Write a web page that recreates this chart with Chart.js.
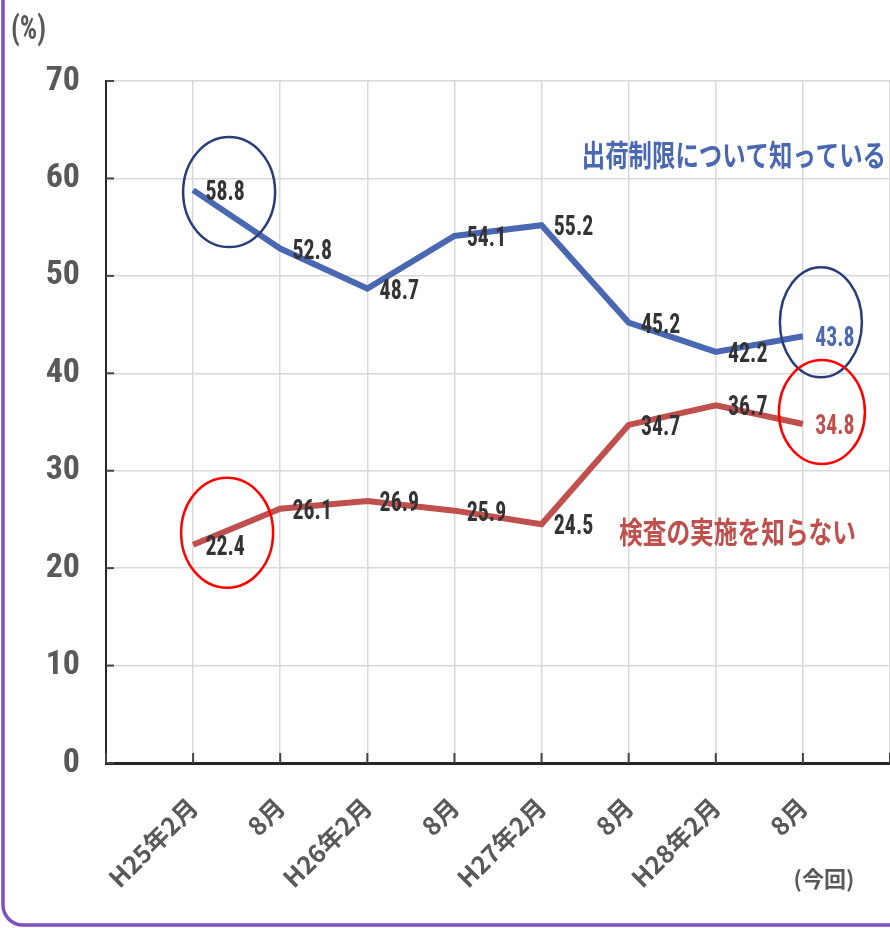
<!DOCTYPE html>
<html>
<head>
<meta charset="utf-8">
<script src="https://cdn.jsdelivr.net/npm/chart.js@4/dist/chart.umd.min.js"></script>
<style>
html,body{margin:0;padding:0;background:#fff;}
#wrap{position:relative;width:890px;height:928px;}
</style>
</head>
<body>
<div id="wrap"><canvas id="c" width="890" height="928"></canvas></div>
<script>
const categories = ['H25年2月','8月','H26年2月','8月','H27年2月','8月','H28年2月','8月'];
const knowName = '出荷制限について知っている';
const notKnowName = '検査の実施を知らない';
const knowValues = [58.8, 52.8, 48.7, 54.1, 55.2, 45.2, 42.2, 43.8];
const notKnowValues = [22.4, 26.1, 26.9, 25.9, 24.5, 34.7, 36.7, 34.8];
const yMin = 0, yMax = 70, yStep = 10;
const unitLabel = '(%)';
const lastNote = '(今回)';

const BLUE = '#4A67B2';
const RED = '#C0504D';
const NUMFONT = '"Roboto Condensed","Noto Sans CJK JP",sans-serif';
const JPFONT = '"Noto Sans CJK JP",sans-serif';

const toPts = arr => arr.map((v, i) => ({x: i, y: v}));

function squeezeText(ctx, text, x, y, sx) {
  ctx.save();
  ctx.translate(x, y);
  ctx.scale(sx, 1);
  ctx.fillText(text, 0, 0);
  ctx.restore();
}

const overlay = {
  id: 'overlay',
  afterDatasetsDraw(chart) {
    const ctx = chart.ctx;
    const xs = chart.scales.x, ys = chart.scales.y;
    const ca = chart.chartArea;
    ctx.save();

    // inner tick marks
    ctx.strokeStyle = '#444';
    ctx.lineWidth = 2;
    ys.ticks.forEach(t => {
      const y = ys.getPixelForValue(t.value);
      ctx.beginPath(); ctx.moveTo(ca.left, y); ctx.lineTo(ca.left + 8, y); ctx.stroke();
    });
    xs.ticks.forEach(t => {
      const x = xs.getPixelForValue(t.value);
      ctx.beginPath(); ctx.moveTo(x, ca.bottom); ctx.lineTo(x, ca.bottom - 10); ctx.stroke();
    });

    // data labels
    ctx.font = 'bold 28px ' + NUMFONT;
    ctx.textAlign = 'center';
    ctx.textBaseline = 'middle';
    const last = categories.length - 1;
    const drawLabels = (vals, col) => {
      vals.forEach((v, i) => {
        ctx.fillStyle = i === last ? col : '#333333';
        squeezeText(ctx, v.toFixed(1), xs.getPixelForValue(i) + 32, ys.getPixelForValue(v) + 3, 0.78);
      });
    };
    drawLabels(knowValues, BLUE);
    drawLabels(notKnowValues, RED);

    // ellipses
    const ell = (cx, cy, rx, ry, col) => {
      ctx.beginPath();
      ctx.ellipse(cx, cy, rx, ry, 0, 0, Math.PI * 2);
      ctx.strokeStyle = col;
      ctx.lineWidth = 2.5;
      ctx.stroke();
    };
    ell(xs.getPixelForValue(0) + 36, ys.getPixelForValue(knowValues[0]) + 2, 46, 55, '#2B3C7A');
    ell(xs.getPixelForValue(0) + 34, ys.getPixelForValue(notKnowValues[0]) - 12, 46, 55, '#FF0000');
    ell(xs.getPixelForValue(last) + 18, ys.getPixelForValue(knowValues[last]) - 14, 41, 55, '#2B3C7A');
    ell(xs.getPixelForValue(last) + 19, ys.getPixelForValue(notKnowValues[last]) - 12, 43, 52, '#FF0000');

    // series names
    ctx.textAlign = 'right';
    ctx.textBaseline = 'middle';
    ctx.font = 'bold 30px ' + JPFONT;
    ctx.fillStyle = BLUE;
    squeezeText(ctx, knowName, 886, 155, 0.78);
    ctx.fillStyle = RED;
    squeezeText(ctx, notKnowName, 856, 532, 0.79);

    // unit and note
    ctx.fillStyle = '#595959';
    ctx.textAlign = 'left';
    ctx.font = 'bold 34px ' + NUMFONT;
    squeezeText(ctx, unitLabel, 11, 30, 0.8);
    ctx.textAlign = 'center';
    ctx.font = 'bold 22px ' + JPFONT;
    ctx.fillText(lastNote, xs.getPixelForValue(last) + 21, 879);

    // frame
    ctx.beginPath();
    ctx.roundRect(3, -20, 920, 945, 20);
    ctx.strokeStyle = '#7E4FBF';
    ctx.lineWidth = 3.5;
    ctx.stroke();
    ctx.restore();
  }
};

new Chart(document.getElementById('c'), {
  type: 'line',
  data: {
    datasets: [
      {label: knowName, data: toPts(knowValues), borderColor: BLUE, borderWidth: 6, pointRadius: 0, tension: 0},
      {label: notKnowName, data: toPts(notKnowValues), borderColor: RED, borderWidth: 6, pointRadius: 0, tension: 0}
    ]
  },
  options: {
    responsive: false,
    animation: false,
    layout: {padding: {top: 81, right: 0, left: 0, bottom: 0}},
    plugins: {legend: {display: false}, tooltip: {enabled: false}},
    scales: {
      x: {
        type: 'linear',
        min: -1, max: categories.length,
        afterBuildTicks(s) { s.ticks = []; for (let i = -1; i <= categories.length; i++) s.ticks.push({value: i}); },
        afterFit(s) { s.height = 165; s.paddingLeft = 0; s.paddingRight = 0; },
        ticks: {
          autoSkip: false,
          minRotation: 45, maxRotation: 45,
          padding: 29,
          color: '#595959',
          font: {family: JPFONT, weight: 'bold', size: 25},
          callback: v => (v >= 0 && v < categories.length) ? categories[v] : ''
        },
        grid: {color: '#D9D9D9', lineWidth: 1.5, drawTicks: false},
        border: {color: '#262626', width: 3}
      },
      y: {
        min: yMin, max: yMax,
        afterFit(s) { s.width = 106; s.paddingTop = 0; s.paddingBottom = 0; },
        ticks: {
          stepSize: yStep,
          padding: 26,
          color: '#595959',
          font: {family: NUMFONT, weight: 'bold', size: 34}
        },
        grid: {color: '#D9D9D9', lineWidth: 1.5, drawTicks: false},
        border: {color: '#262626', width: 2}
      }
    }
  },
  plugins: [overlay]
});
</script>
</body>
</html>
